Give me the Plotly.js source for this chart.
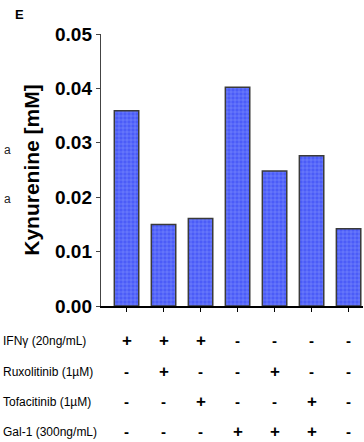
<!DOCTYPE html>
<html>
<head>
<meta charset="utf-8">
<script src="https://cdn.plot.ly/plotly-3.0.1.min.js"></script>
<style>html,body{margin:0;padding:0;background:#fff;}#chart{width:364px;height:442px;}</style>
</head>
<body>
<div id="chart"></div>
<script>
const conditions = ["C1","C2","C3","C4","C5","C6","C7"];
const kynurenine = [0.0359, 0.0150, 0.0161, 0.0402, 0.0248, 0.0276, 0.0142];
const rowLabels = ["IFN\u03b3 (20ng/mL)", "Ruxolitinib (1\u00b5M)", "Tofacitinib (1\u00b5M)", "Gal-1 (300ng/mL)"];
const ifng  = ["+","+","+","-","-","-","-"];
const ruxo  = ["-","+","-","-","+","-","-"];
const tofa  = ["-","-","+","-","-","+","-"];
const gal1  = ["-","-","-","+","+","+","-"];
const yTicks = [0, 0.01, 0.02, 0.03, 0.04, 0.05];
const yTickText = ["0.00","0.01","0.02","0.03","0.04","0.05"];

const rows = [ifng, ruxo, tofa, gal1];
const plotTop = 34, plotBottom = 306, H = 442;
const plotH = plotBottom - plotTop;
const rowPix = [340.7, 371.5, 401.7, 431.7];

const annotations = [];
rows.forEach((row, r) => {
  const py = (plotBottom - rowPix[r]) / plotH;
  annotations.push({
    xref: 'paper', yref: 'paper', x: -100/262, y: py, xanchor: 'left', yanchor: 'middle',
    text: rowLabels[r], showarrow: false, font: {family: 'Arial, Liberation Sans, sans-serif', size: 12, color: '#000'}
  });
  row.forEach((s, i) => {
    annotations.push({
      xref: 'x', yref: 'paper', x: i, y: py, xanchor: 'center', yanchor: 'middle',
      text: '<b>' + s + '</b>', showarrow: false,
      font: {family: 'Arial, Liberation Sans, sans-serif', size: s === '+' ? 17 : 15, color: '#000'}
    });
  });
});
annotations.push({xref:'paper', yref:'paper', x:-88/262, y:(plotBottom-14)/plotH, xanchor:'left', yanchor:'middle',
  text:'<b>E</b>', showarrow:false, font:{family:'Arial, Liberation Sans, sans-serif', size:13, color:'#000'}});
[150, 199].forEach(yp => annotations.push({xref:'paper', yref:'paper', x:-99/262, y:(plotBottom-yp)/plotH, xanchor:'left', yanchor:'middle',
  text:'a', showarrow:false, font:{family:'Arial, Liberation Sans, sans-serif', size:12, color:'#222'}}));

const trace = {
  type: 'bar',
  x: conditions.map((c, i) => i),
  y: kynurenine,
  width: 0.66,
  marker: {
    color: '#4b5cf8',
    line: {color: '#3a3a3a', width: 1.5},
    pattern: {shape: '+', fgcolor: '#8d9bff', bgcolor: '#4b5cf8', size: 4, solidity: 0.2}
  },
  hoverinfo: 'none'
};

const layout = {
  width: 364, height: 442,
  margin: {l: 101, r: 1, t: plotTop, b: H - plotBottom},
  paper_bgcolor: '#fff', plot_bgcolor: '#fff',
  showlegend: false,
  xaxis: {
    range: [-0.69, 6.39], tickvals: [0,1,2,3,4,5,6], ticktext: ['','','','','','',''],
    showline: true, linecolor: '#000', linewidth: 2, ticks: 'outside', ticklen: 4, tickcolor: '#000', tickwidth: 1,
    showgrid: false, zeroline: false, fixedrange: true
  },
  yaxis: {
    range: [0, 0.05], tickvals: yTicks, ticktext: yTickText,
    showline: true, linecolor: '#444', linewidth: 1.2, ticks: 'outside', ticklen: 4, tickcolor: '#444', tickwidth: 1,
    showgrid: false, zeroline: false,
    tickfont: {family: 'Arial, Liberation Sans, sans-serif', size: 19, color: '#000', weight: 'bold'},
    title: {text: '<b>Kynurenine [mM]</b>', font: {family: 'Arial, Liberation Sans, sans-serif', size: 21, color: '#000'}, standoff: 9}
  },
  annotations: annotations
};

Plotly.newPlot('chart', [trace], layout, {staticPlot: true, displayModeBar: false});
</script>
</body>
</html>
